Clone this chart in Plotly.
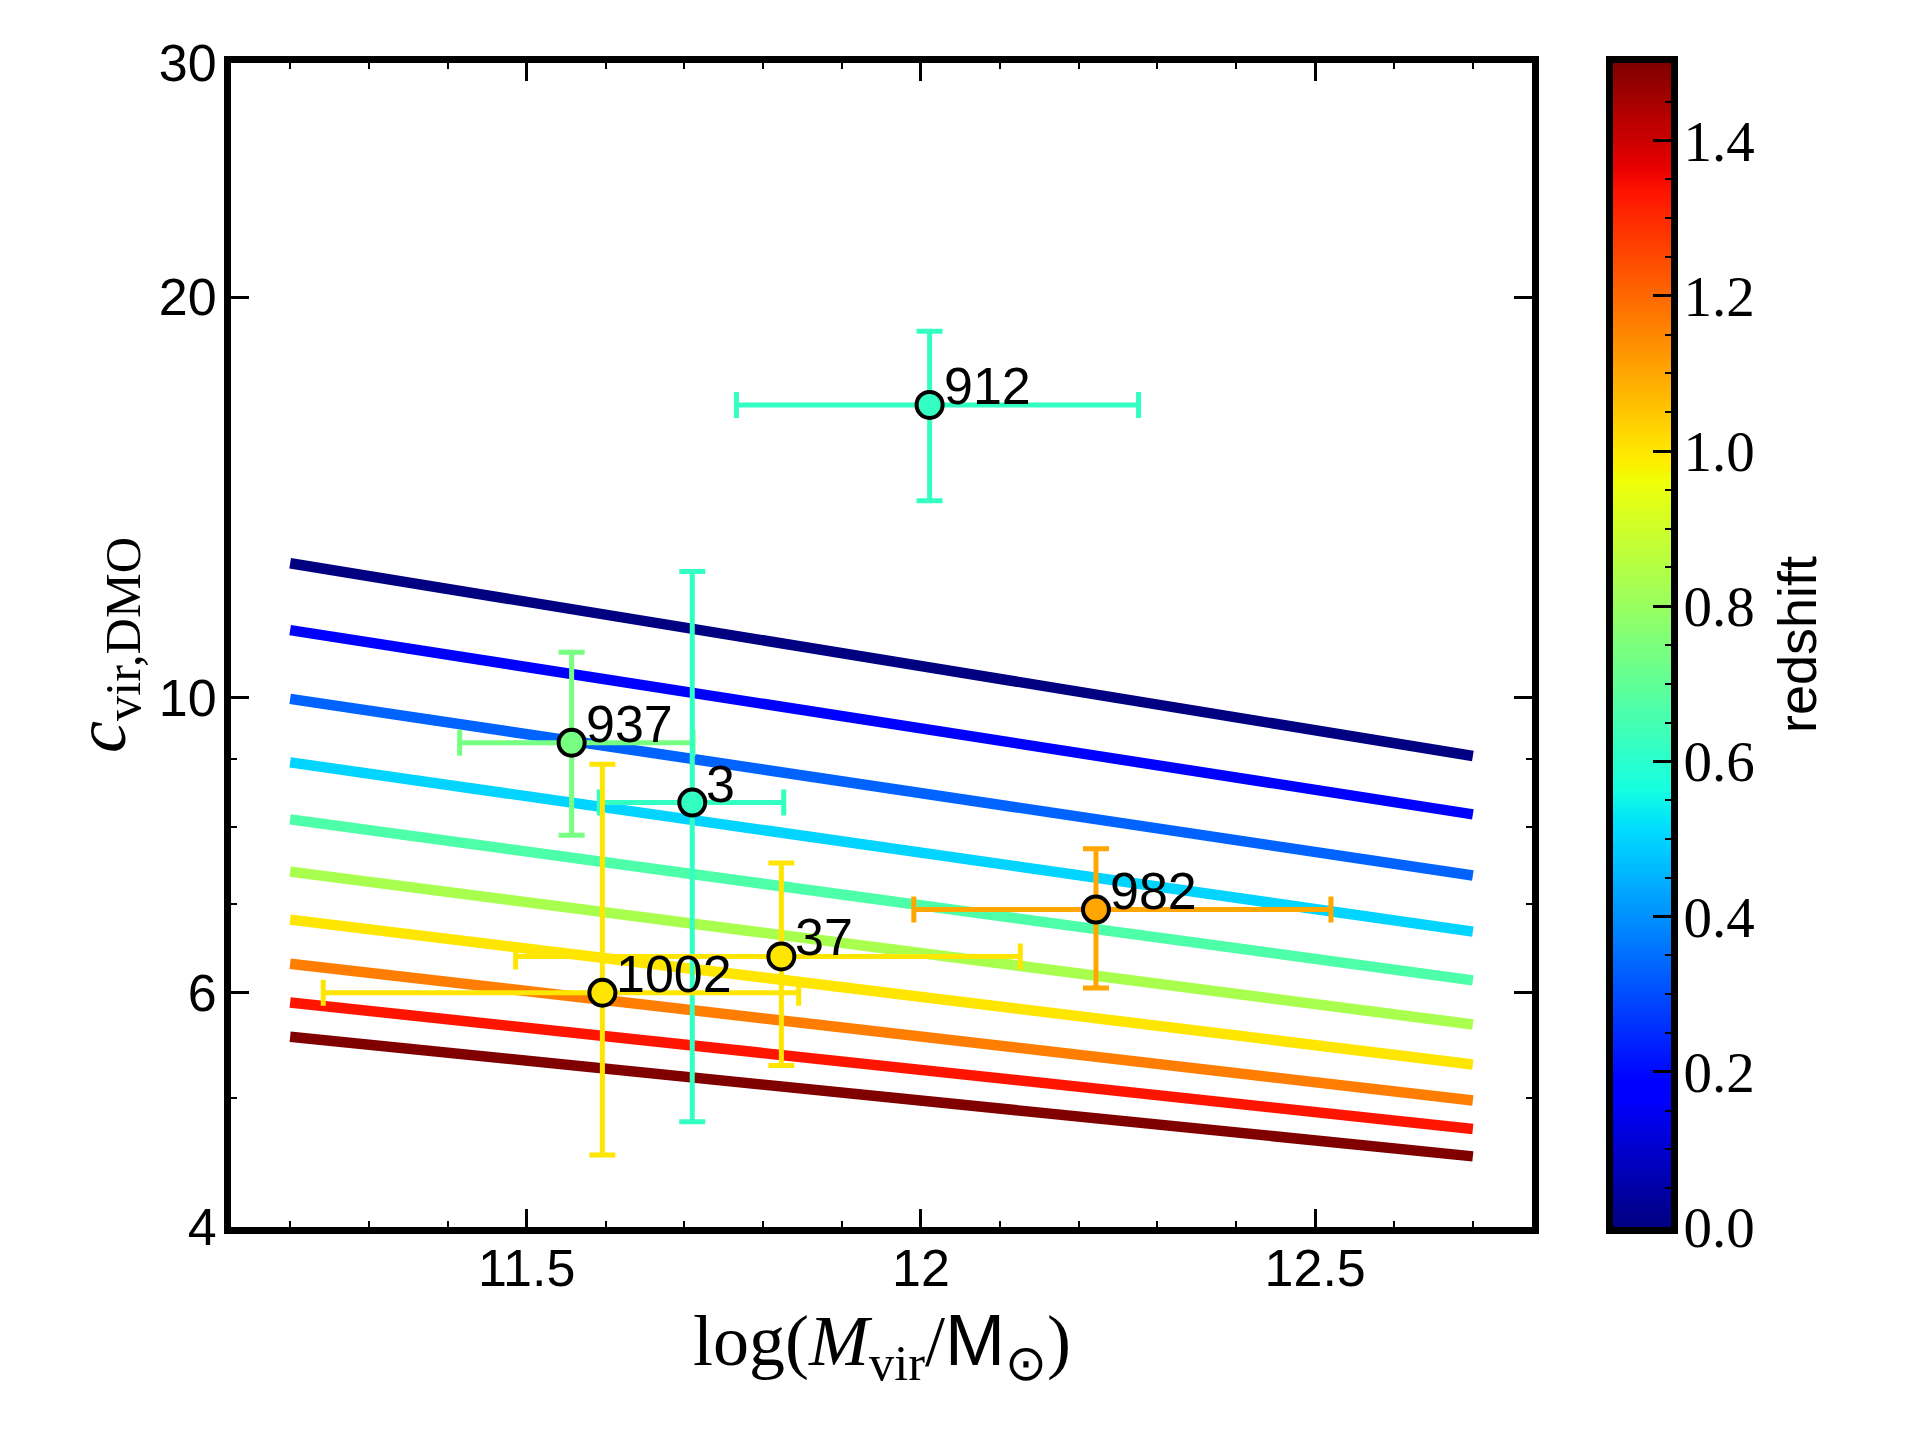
import numpy as np
import plotly.graph_objects as go

# ---------------- data ----------------
# model c-M relation lines (one per redshift)
line_z = [0.0, 0.167, 0.333, 0.5, 0.667, 0.833, 1.0, 1.167, 1.333, 1.5]
line_logM = [11.2, 12.7]
line_c_start = [12.62, 11.24, 9.98, 8.94, 8.10, 7.40, 6.81, 6.31, 5.90, 5.56]
line_c_end = [9.04, 8.17, 7.35, 6.67, 6.13, 5.68, 5.30, 4.98, 4.74, 4.52]

# halos
halo_names = ["912", "937", "3", "982", "37", "1002"]
halo_logM = [12.011, 11.557, 11.710, 12.222, 11.823, 11.596]
halo_logM_lo = [11.766, 11.415, 11.592, 11.991, 11.486, 11.242]
halo_logM_hi = [12.276, 11.711, 11.826, 12.520, 12.126, 11.845]
halo_c = [16.6, 9.25, 8.34, 6.93, 6.39, 6.00]
halo_c_lo = [14.06, 7.88, 4.80, 6.05, 5.29, 4.53]
halo_c_hi = [18.86, 10.82, 12.44, 7.70, 7.51, 8.91]
halo_z = [0.62, 0.74, 0.62, 1.10, 1.00, 1.00]

x_ticks = [11.5, 12, 12.5]
x_ticktext = ["11.5", "12", "12.5"]
y_ticks = [4, 6, 10, 20, 30]
y_ticktext = ["4", "6", "10", "20", "30"]
cb_ticks = [0.0, 0.2, 0.4, 0.6, 0.8, 1.0, 1.2, 1.4]
cb_ticktext = ["0.0", "0.2", "0.4", "0.6", "0.8", "1.0", "1.2", "1.4"]
ZMAX = 1.5

# ---------------- style helpers ----------------
def jet(t):
    r = np.interp(t, [0, 0.35, 0.66, 0.89, 1], [0, 0, 1, 1, 0.5])
    g = np.interp(t, [0, 0.125, 0.375, 0.64, 0.91, 1], [0, 0, 1, 1, 0, 0])
    b = np.interp(t, [0, 0.11, 0.34, 0.65, 1], [0.5, 1, 1, 0, 0])
    return "rgb(%d,%d,%d)" % (round(r * 255), round(g * 255), round(b * 255))

stops = [0, 0.11, 0.125, 0.34, 0.35, 0.375, 0.64, 0.65, 0.66, 0.89, 0.91, 1]
jet_scale = [[s, jet(s)] for s in stops]

SANS = "Liberation Sans, Arial, sans-serif"
SERIF = "Liberation Serif, Times New Roman, serif"
TICK_SANS = 52

W, H = 1920, 1440
XD = [231 / W, 1532 / W]
YD = [1 - 1227 / H, 1 - 63 / H]
CBX = [1613 / W, 1671 / W]

fig = go.Figure()

# model lines
for z, c0, c1 in zip(line_z, line_c_start, line_c_end):
    fig.add_trace(go.Scatter(
        x=line_logM, y=[c0, c1], mode="lines",
        line=dict(color=jet(z / ZMAX), width=10.5),
        showlegend=False, hoverinfo="skip"))

# halos with error bars
for name, m, mlo, mhi, c, clo, chi, z in zip(
        halo_names, halo_logM, halo_logM_lo, halo_logM_hi,
        halo_c, halo_c_lo, halo_c_hi, halo_z):
    col = jet(z / ZMAX)
    fig.add_trace(go.Scatter(
        x=[m], y=[c], mode="markers",
        marker=dict(size=26, color=col, line=dict(color="black", width=4)),
        error_x=dict(type="data", symmetric=False, array=[mhi - m],
                     arrayminus=[m - mlo], color=col, thickness=5, width=13),
        error_y=dict(type="data", symmetric=False, array=[chi - c],
                     arrayminus=[c - clo], color=col, thickness=5, width=13),
        showlegend=False))
    fig.add_annotation(x=m, y=np.log10(c), xref="x", yref="y", text=name,
                       showarrow=False, xanchor="left", yanchor="bottom",
                       xshift=12, yshift=-12,
                       font=dict(family=SANS, size=TICK_SANS, color="black"))

# colorbar drawn as a heatmap in its own axes
grad = np.linspace(0, ZMAX, 301)
fig.add_trace(go.Heatmap(
    z=[[v] for v in grad], y=grad, x=[0], colorscale=jet_scale,
    zmin=0, zmax=ZMAX, showscale=False, xaxis="x2", yaxis="y2",
    hoverinfo="skip"))

axis_common = dict(showline=True, linewidth=7, linecolor="black",
                   showgrid=False, zeroline=False, ticks="inside",
                   tickcolor="black", ticklen=18, tickwidth=2.5,
                   automargin=False)

fig.update_layout(
    width=W, height=H,
    margin=dict(l=0, r=0, t=0, b=0, autoexpand=False),
    paper_bgcolor="white", plot_bgcolor="white",
    xaxis=dict(domain=XD, range=[11.125, 12.775], tickvals=x_ticks,
               ticktext=x_ticktext, mirror="ticks",
               tickfont=dict(family=SANS, size=TICK_SANS, color="black"),
               ticklabelstandoff=-10,
               minor=dict(tickvals=[11.2, 11.3, 11.4, 11.6, 11.7, 11.8, 11.9,
                                    12.1, 12.2, 12.3, 12.4, 12.6, 12.7],
                          ticks="inside", ticklen=6, tickwidth=2,
                          tickcolor="black", showgrid=False),
               **axis_common),
    yaxis=dict(domain=YD, type="log", range=[np.log10(4), np.log10(30)],
               tickvals=y_ticks, ticktext=y_ticktext, mirror="ticks",
               tickfont=dict(family=SANS, size=TICK_SANS, color="black"),
               ticklabelstandoff=-3,
               minor=dict(tickvals=[5, 7, 8, 9], ticks="inside", ticklen=6,
                          tickwidth=2, tickcolor="black", showgrid=False),
               **axis_common),
    xaxis2=dict(domain=CBX, range=[-0.5, 0.5], anchor="y2", showline=True,
                linewidth=7, linecolor="black", mirror=True,
                showticklabels=False, ticks="", showgrid=False,
                zeroline=False, automargin=False),
    yaxis2=dict(domain=YD, range=[0, ZMAX], anchor="x2", side="right",
                tickvals=cb_ticks, ticktext=cb_ticktext, mirror=True,
                tickfont=dict(family=SERIF, size=57, color="black"),
                ticklabelstandoff=-6,
                minor=dict(tickvals=[0.05, 0.1, 0.15, 0.25, 0.3, 0.35, 0.45,
                                     0.5, 0.55, 0.65, 0.7, 0.75, 0.85, 0.9,
                                     0.95, 1.05, 1.1, 1.15, 1.25, 1.3, 1.35,
                                     1.45],
                           ticks="inside", ticklen=6, tickwidth=2,
                           tickcolor="black", showgrid=False),
                **axis_common),
)

# axis titles
fig.add_annotation(
    x=(XD[0] + XD[1]) / 2, y=1 - 1345 / H, xref="paper", yref="paper",
    text="log(<i>M</i><sub>vir</sub>/<span style=\"font-family:Liberation Sans\">M</span><sub>⊙</sub>)",
    showarrow=False, xanchor="center", yanchor="middle",
    font=dict(family=SERIF, size=72, color="black"))
fig.add_annotation(
    x=106 / W, y=(YD[0] + YD[1]) / 2, xref="paper", yref="paper",
    text="<i>c</i><sub>vir,DMO</sub>", textangle=-90,
    showarrow=False, xanchor="center", yanchor="middle",
    font=dict(family=SERIF, size=72, color="black"))
fig.add_annotation(
    x=1797 / W, y=(YD[0] + YD[1]) / 2, xref="paper", yref="paper",
    text="redshift", textangle=-90,
    showarrow=False, xanchor="center", yanchor="middle",
    font=dict(family=SANS, size=54, color="black"))

fig.write_html("out.html", config={"displayModeBar": False},
               post_script="document.body.style.margin='0';")
